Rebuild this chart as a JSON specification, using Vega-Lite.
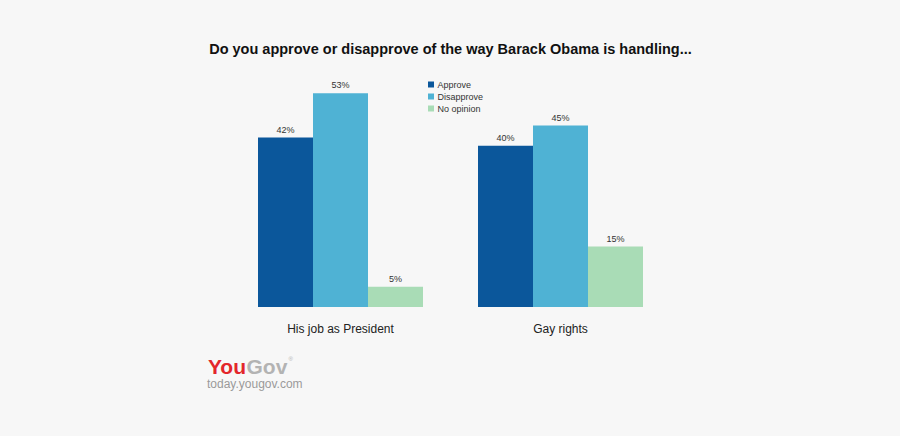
{
  "$schema": "https://vega.github.io/schema/vega-lite/v6.json",
  "autosize": {"type": "none"},
  "width": 440,
  "height": 242,
  "padding": {"left": 230.5, "top": 65, "right": 229.5, "bottom": 129},
  "background": "#f7f7f7",
  "config": {"view": {"stroke": null}, "font": "Liberation Sans"},
  "title": {
    "text": "Do you approve or disapprove of the way Barack Obama is handling...",
    "font": "Liberation Sans",
    "fontSize": 14.5,
    "fontWeight": "bold",
    "color": "#111111",
    "anchor": "middle",
    "baseline": "alphabetic",
    "offset": -3
  },
  "data": {
    "values": [
      {"topic": "His job as President", "response": "Approve", "pct": 42},
      {"topic": "His job as President", "response": "Disapprove", "pct": 53},
      {"topic": "His job as President", "response": "No opinion", "pct": 5},
      {"topic": "Gay rights", "response": "Approve", "pct": 40},
      {"topic": "Gay rights", "response": "Disapprove", "pct": 45},
      {"topic": "Gay rights", "response": "No opinion", "pct": 15}
    ]
  },
  "layer": [
    {
      "encoding": {
        "x": {
          "field": "topic",
          "type": "nominal",
          "sort": ["His job as President", "Gay rights"],
          "scale": {"paddingInner": 0.25, "paddingOuter": 0.125},
          "axis": {
            "title": null,
            "domain": false,
            "ticks": false,
            "labelAngle": 0,
            "labelFontSize": 12,
            "labelColor": "#222222",
            "labelPadding": 16
          }
        },
        "xOffset": {
          "field": "response",
          "type": "nominal",
          "sort": ["Approve", "Disapprove", "No opinion"],
          "scale": {"paddingInner": 0, "paddingOuter": 0}
        },
        "y": {
          "field": "pct",
          "type": "quantitative",
          "scale": {"domain": [0, 60], "nice": false},
          "axis": null
        }
      },
      "layer": [
        {
          "mark": {"type": "bar"},
          "encoding": {
            "color": {
              "field": "response",
              "type": "nominal",
              "sort": ["Approve", "Disapprove", "No opinion"],
              "scale": {"domain": ["Approve", "Disapprove", "No opinion"], "range": ["#0b579b", "#4fb2d4", "#a9dcb6"]},
              "legend": {
                "title": null,
                "orient": "none",
                "legendX": 196,
                "legendY": 15,
                "symbolType": "square",
                "symbolSize": 36,
                "symbolStrokeWidth": 0,
                "labelFontSize": 9,
                "labelColor": "#333333",
                "labelOffset": 2,
                "rowPadding": 2,
                "padding": 0
              }
            }
          }
        },
        {
          "transform": [{"calculate": "datum.pct + '%'", "as": "lbl"}],
          "mark": {"type": "text", "baseline": "alphabetic", "dy": -5, "fontSize": 9, "color": "#333333"},
          "encoding": {
            "text": {"field": "lbl", "type": "nominal"}
          }
        }
      ]
    },
    {
      "data": {"values": [{"label": "You"}]},
      "mark": {"type": "text", "align": "right", "baseline": "alphabetic", "dx": -94.5, "fontSize": 21, "fontWeight": "bold", "color": "#e3262b", "letterSpacing": -1},
      "encoding": {
        "x": {"datum": "His job as President"},
        "y": {"datum": -16.6},
        "text": {"field": "label", "type": "nominal"}
      }
    },
    {
      "data": {"values": [{"label": "Gov"}]},
      "mark": {"type": "text", "align": "left", "baseline": "alphabetic", "dx": -94, "fontSize": 21, "fontWeight": "bold", "color": "#b3b3b3", "letterSpacing": -1},
      "encoding": {
        "x": {"datum": "His job as President"},
        "y": {"datum": -16.6},
        "text": {"field": "label", "type": "nominal"}
      }
    },
    {
      "data": {"values": [{"label": "®"}]},
      "mark": {"type": "text", "align": "left", "baseline": "alphabetic", "dx": -52, "fontSize": 6, "color": "#b3b3b3"},
      "encoding": {
        "x": {"datum": "His job as President"},
        "y": {"datum": -13.4},
        "text": {"field": "label", "type": "nominal"}
      }
    },
    {
      "data": {"values": [{"label": "today.yougov.com"}]},
      "mark": {"type": "text", "align": "left", "baseline": "alphabetic", "dx": -133.5, "fontSize": 12, "color": "#9a9a9a"},
      "encoding": {
        "x": {"datum": "His job as President"},
        "y": {"datum": -20.0},
        "text": {"field": "label", "type": "nominal"}
      }
    }
  ]
}
